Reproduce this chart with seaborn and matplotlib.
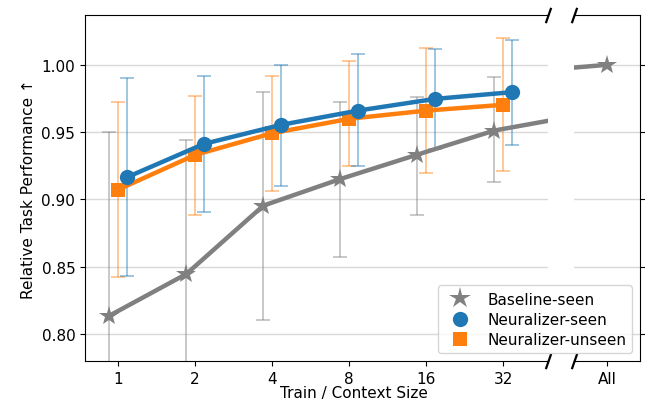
import numpy as np
import pandas as pd
import matplotlib
matplotlib.use("Agg")
import matplotlib.pyplot as plt
import seaborn as sns
from matplotlib.lines import Line2D

sizes = ["1", "2", "4", "8", "16", "32"]
all_label = "All"

baseline_seen = [0.8136, 0.8446, 0.8954, 0.9152, 0.9333, 0.9512]
baseline_all = 1.0
baseline_hi = [0.9504, 0.9442, 0.9797, 0.9722, 0.9764, 0.9906]
baseline_lo = [0.700, 0.700, 0.8104, 0.8570, 0.8887, 0.9133]

neur_seen = [0.9165, 0.9413, 0.9554, 0.9660, 0.9747, 0.9797]
neur_seen_hi = [0.9900, 0.9916, 1.0002, 1.0077, 1.0119, 1.0186]
neur_seen_lo = [0.8431, 0.8907, 0.9103, 0.9247, 0.9375, 0.9405]

neur_unseen = [0.9073, 0.9331, 0.9492, 0.9599, 0.9660, 0.9703]
neur_unseen_hi = [0.9722, 0.9767, 0.9920, 1.0025, 1.0124, 1.0196]
neur_unseen_lo = [0.8426, 0.8887, 0.9060, 0.9251, 0.9197, 0.9214]

GRAY, BLUE, ORANGE = "#808080", "#1f77b4", "#ff7f0e"
FS = 11

fig = plt.figure(figsize=(6.45, 4.02), dpi=100)
ax = fig.add_axes([85/645, 1-362/402, (548-85)/645, (362-16)/402])
ax2 = fig.add_axes([574/645, 1-362/402, (640-574)/645, (362-16)/402], sharey=ax)

base = np.arange(len(sizes))
x_all = 9.6
off = 0.115

series = [
    (baseline_seen, baseline_lo, baseline_hi, GRAY, -off),
    (neur_unseen, neur_unseen_lo, neur_unseen_hi, ORANGE, 0.0),
    (neur_seen, neur_seen_lo, neur_seen_hi, BLUE, off),
]

for vals, lo, hi, col, dx in series:
    x = base + dx
    v = np.array(vals)
    yerr = np.vstack([v - np.array(lo), np.array(hi) - v])
    ax.errorbar(x, v, yerr=yerr, fmt="none", ecolor=col, alpha=0.5,
                elinewidth=1.2, capsize=5, capthick=1.2, zorder=2)

# baseline line including "All"
bx = np.append(base - off, x_all)
by = np.append(baseline_seen, baseline_all)
for a in (ax, ax2):
    sns.lineplot(x=bx, y=by, color=GRAY, linewidth=3.2, marker="*",
                 markersize=15, markeredgewidth=0, ax=a, zorder=3)

sns.lineplot(x=base, y=neur_unseen, color=ORANGE, linewidth=3.2, marker="s",
             markersize=10, markeredgewidth=0, ax=ax, zorder=4)
sns.lineplot(x=base + off, y=neur_seen, color=BLUE, linewidth=3.2, marker="o",
             markersize=11, markeredgewidth=0, ax=ax, zorder=5)

ax.set_xlim(-0.43, 5.58)
ax2.set_xlim(x_all - 0.2, x_all + 0.2)
ax.set_ylim(0.78, 1.037)
ax.set_yticks([0.80, 0.85, 0.90, 0.95, 1.00])
ax.set_xticks(base)
ax.set_xticklabels(sizes)
ax2.set_xticks([x_all])
ax2.set_xticklabels([all_label])

for a in (ax, ax2):
    a.yaxis.grid(True, color="#d9d9d9", linewidth=1)
    a.xaxis.grid(False)
    a.set_axisbelow(True)
    a.tick_params(labelsize=FS)

ax.spines["right"].set_visible(False)
ax2.spines["left"].set_visible(False)
ax2.yaxis.tick_right()
ax2.tick_params(labelright=False, labelleft=False)

ax.set_ylabel("Relative Task Performance ↑", fontsize=FS)
ax.set_xlabel("")
fig.text(354/645, 1-394/402, "Train / Context Size", ha="center", va="center", fontsize=FS)

# break marks
kw = dict(marker=[(-0.35, -1), (0.35, 1)], markersize=11, linestyle="none",
          color="k", mec="k", mew=1.6, clip_on=False)
ax.plot([1, 1], [0, 1], transform=ax.transAxes, **kw)
ax2.plot([0, 0], [0, 1], transform=ax2.transAxes, **kw)

handles = [
    Line2D([], [], color=GRAY, marker="*", markersize=16, linestyle="none", markeredgewidth=0),
    Line2D([], [], color=BLUE, marker="o", markersize=11, linestyle="none", markeredgewidth=0),
    Line2D([], [], color=ORANGE, marker="s", markersize=10, linestyle="none", markeredgewidth=0),
]
ax2.legend(handles, ["Baseline-seen", "Neuralizer-seen", "Neuralizer-unseen"],
           loc="lower right", fontsize=FS, framealpha=0.8, handletextpad=0.8,
           labelspacing=0.35)

fig.savefig("out.png", dpi=100)
